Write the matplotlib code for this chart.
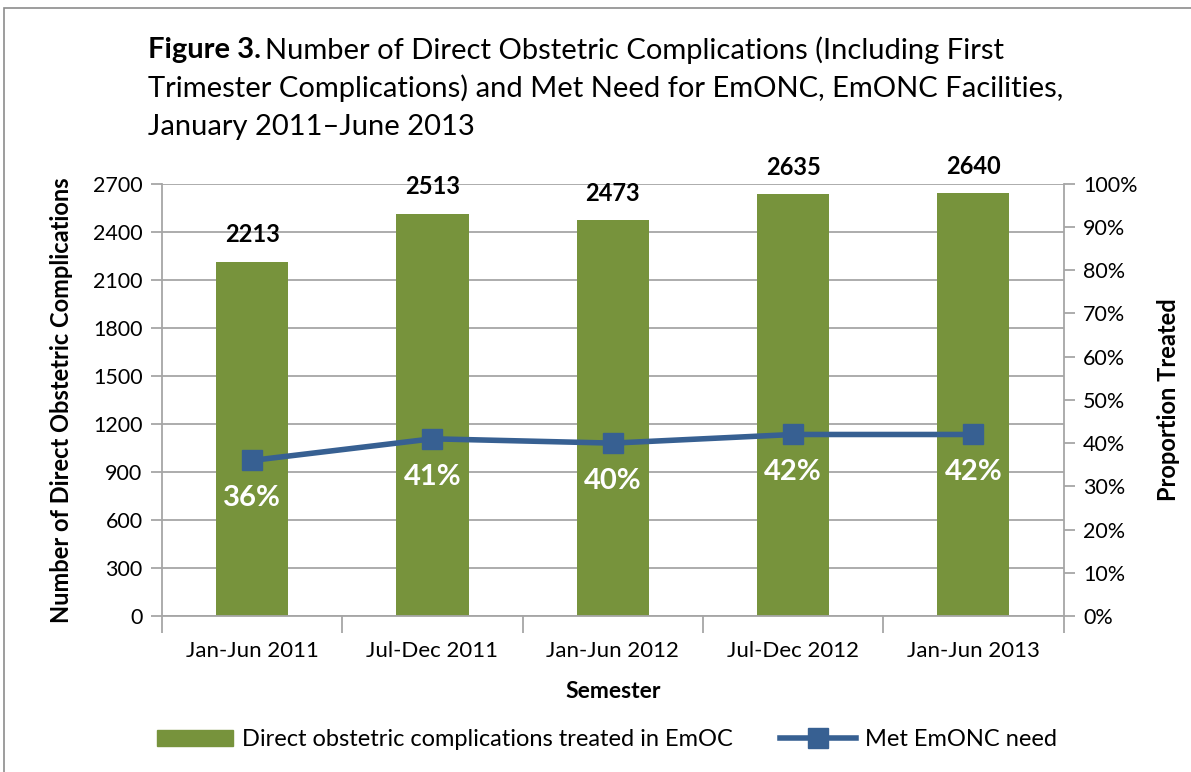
import matplotlib.pyplot as plt
import matplotlib.patches as mpatches
from matplotlib.lines import Line2D
from matplotlib.ticker import FuncFormatter

plt.rcParams['font.family'] = ['Lato', 'DejaVu Sans']

semesters = ["Jan-Jun 2011", "Jul-Dec 2011", "Jan-Jun 2012", "Jul-Dec 2012", "Jan-Jun 2013"]
complications = [2213, 2513, 2473, 2635, 2640]
met_need = [36, 41, 40, 42, 42]

bar_color = "#77933C"
line_color = "#376092"
grid_color = "#A6A6A6"

fig = plt.figure(figsize=(11.91, 7.72), dpi=100)
# outer border like the exported chart frame
fig.patches.append(mpatches.Rectangle((0.003, -0.01), 1.1, 0.999, transform=fig.transFigure,
                                      fill=False, edgecolor="#8C8C8C", linewidth=1.2))

ax = fig.add_axes([0.136, 0.202, 0.757, 0.56])
x = list(range(len(semesters)))
ax.bar(x, complications, width=0.4, color=bar_color, zorder=2)
ax.set_xlim(-0.5, len(semesters) - 0.5)
ax.set_ylim(0, 2700)
ax.set_yticks(range(0, 2701, 300))
ax.yaxis.grid(True, color=grid_color, linewidth=1.3, zorder=0)
ax.set_axisbelow(True)
for s in ["top", "right"]:
    ax.spines[s].set_visible(False)
ax.spines["left"].set_color(grid_color)
ax.spines["bottom"].set_color(grid_color)
ax.spines["left"].set_linewidth(1.3)
ax.spines["bottom"].set_linewidth(1.3)

ax.set_xticks(x)
ax.set_xticklabels(semesters, fontsize=16)
ax.tick_params(axis="x", length=0, pad=18)
ax.set_xticks([i - 0.5 for i in range(len(semesters) + 1)], minor=True)
ax.tick_params(axis="x", which="minor", length=12, color=grid_color, width=1.3)
ax.tick_params(axis="y", labelsize=15.5, length=8, color=grid_color, width=1.3, pad=6)

for xi, v in zip(x, complications):
    ax.annotate(str(v), (xi, v), xytext=(0, 11), textcoords="offset points",
                ha="center", va="bottom", fontsize=17, fontweight="bold")

ax.set_xlabel("Semester", fontsize=16.5, fontweight="bold", labelpad=14)
ax.set_ylabel("Number of Direct Obstetric Complications", fontsize=17, fontweight="bold", labelpad=14)

ax2 = ax.twinx()
ax2.plot(x, met_need, color=line_color, linewidth=4, marker="s", markersize=15, zorder=3)
ax2.set_ylim(0, 100)
ax2.set_yticks(range(0, 101, 10))
ax2.yaxis.set_major_formatter(FuncFormatter(lambda v, p: f"{int(v)}%"))
ax2.tick_params(axis="y", labelsize=15.5, length=8, color=grid_color, width=1.3, pad=6)
for s in ["top", "left", "bottom"]:
    ax2.spines[s].set_visible(False)
ax2.spines["right"].set_color(grid_color)
ax2.spines["right"].set_linewidth(1.3)
ax2.set_ylabel("Proportion Treated", fontsize=17, fontweight="bold", labelpad=14)

for xi, v in zip(x, met_need):
    ax2.annotate(f"{v}%", (xi, v), xytext=(0, -18), textcoords="offset points",
                 ha="center", va="top", fontsize=21, fontweight="bold", color="white")

# title: bold prefix followed by regular text
t_bold = fig.text(0.124, 0.935, "Figure 3.", fontsize=21, fontweight="bold", va="center")
fig.canvas.draw()
bb = t_bold.get_window_extent()
fig.text(bb.x1 / fig.bbox.width + 0.004, 0.935,
         "Number of Direct Obstetric Complications (Including First", fontsize=21, va="center")
fig.text(0.124, 0.886, "Trimester Complications) and Met Need for EmONC, EmONC Facilities,",
         fontsize=21, va="center")
fig.text(0.124, 0.836, "January 2011\u2013June 2013", fontsize=21, va="center")

handles = [mpatches.Patch(color=bar_color),
           Line2D([0], [0], color=line_color, linewidth=4, marker="s", markersize=14)]
fig.legend(handles, ["Direct obstetric complications treated in EmOC", "Met EmONC need"],
           loc="center", bbox_to_anchor=(0.51, 0.042), ncol=2, frameon=False,
           fontsize=17, handlelength=3.2, handletextpad=0.4, columnspacing=2)

fig.savefig("out.png", dpi=100)
